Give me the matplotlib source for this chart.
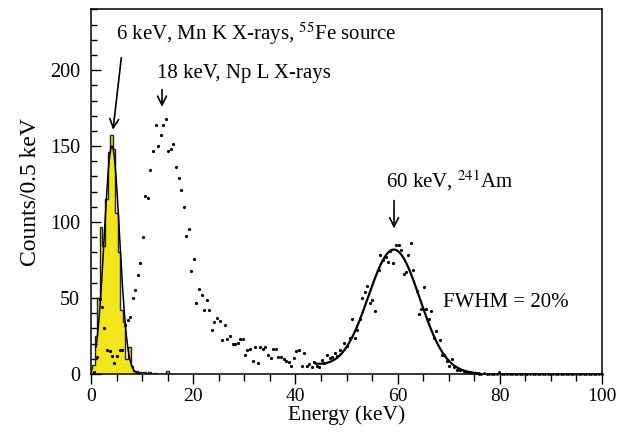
import numpy as np
import matplotlib
matplotlib.use("Agg")
from matplotlib import pyplot as plt

plt.rcParams['font.family'] = ['Liberation Serif', 'DejaVu Serif']
plt.rcParams['mathtext.fontset'] = 'stix'

# 55Fe histogram (Counts/0.5 keV), bin centres in keV
fe_centers = [0.0, 0.5, 1.0, 1.5, 2.0, 2.5, 3.0, 3.5, 4.0, 4.5, 5.0, 5.5, 6.0,
              6.5, 7.0, 7.5, 8.0, 8.5, 9.0, 9.5, 10.0, 10.5, 11.0, 11.5, 12.0,
              12.5, 13.0, 13.5, 14.0, 14.5, 15.0]
fe_counts = [3, 6, 25, 50, 97, 84, 115, 146, 157, 148, 106, 80, 42,
             34, 10, 18, 5, 2, 2, 1, 1, 1, 0, 1, 0,
             0.5, 0, 0, 0, 0, 2]

# 241Am spectrum points
am_energy = [0.6, 1.1, 1.75, 2.15, 2.6, 3.2, 3.7, 4.2, 4.6, 5.15, 5.65, 6.15,
             6.65, 7.15, 7.65, 8.15, 8.65, 9.2, 9.6, 10.1, 10.6, 11.15, 11.6,
             12.1, 12.65, 13.15, 13.65, 14.15, 14.6, 15.1, 15.65, 16.1, 16.6,
             17.15, 17.65, 18.15, 18.6, 19.1, 19.65, 20.15, 20.6, 21.1, 21.65,
             22.15, 22.65, 23.15, 23.6, 24.1, 24.6, 25.15, 25.7, 26.2, 26.7,
             27.2, 27.7, 28.2, 28.7, 29.2, 29.7, 30.15, 30.6, 31.1, 31.65,
             32.15, 32.6, 33.1, 33.65, 34.1, 34.65, 35.15, 35.7, 36.2, 36.65,
             37.2, 37.7, 38.2, 38.75, 39.15, 39.65, 40.2, 40.7, 41.2, 41.65,
             42.2, 42.7, 43.2, 43.65, 44.15, 44.7, 45.2, 45.65, 46.1, 46.7,
             47.2, 47.7, 48.2, 48.65, 49.6, 50.15, 50.65, 51.15, 51.65, 52.1,
             52.6, 53.1, 53.6, 54.1, 54.6, 55.05, 55.5, 56.3, 56.6, 57.2,
             57.7, 58.2, 58.6, 59.1, 59.7, 60.2, 60.7, 61.2, 61.7, 62.1,
             62.6, 63.1, 63.7, 64.2, 64.6, 65.1, 65.6, 66.1, 66.6, 67.1,
             67.6, 68.2, 68.6, 69.1, 69.7, 70.1, 70.6, 71.0, 71.7, 72.3, 72.9]
am_counts = [1.5, 11, 49.5, 44, 30, 16, 15, 12, 7, 12, 16, 16,
             32, 35.5, 37.5, 50, 55, 65, 73, 90, 117, 116, 134,
             147, 164, 150, 157, 164, 168, 146.5, 148, 151.5, 136,
             129, 121, 110, 91, 95.5, 68, 76, 47, 56, 52,
             42, 49, 42, 29, 34, 37, 35, 22.6, 32, 23.3,
             25, 19.6, 20, 20.5, 23.3, 23.3, 12.3, 15.8, 16.5, 8.4,
             17.6, 7, 17.6, 16.3, 17.6, 12.3, 10.3, 16.5, 16.5, 11,
             11, 9.7, 8.6, 7.7, 5.3, 10.6, 15, 15.6, 5.5, 14,
             5.5, 6.4, 4.8, 8.1, 5.5, 4.4, 9.2, 7, 12.5, 10.5,
             11, 14, 12, 15.5, 20.7, 18.7, 24, 36.5, 23.7, 28.8,
             36.3, 49.8, 53.8, 57.8, 47, 49, 41.2, 68.6, 78.1, 75.2,
             77, 73.7, 81.2, 73, 85.2, 85.2, 81.9, 66, 67, 78,
             86.3, 68.2, 54.8, 39.2, 42.9, 57, 42.6, 36, 41.2, 23.8,
             28.2, 22.3, 12.4, 12.8, 8.4, 5, 10, 4.6, 2.9, 2.9, 1.8]

# flat tail above 73 keV (0.5 keV channels)
tail_energy = np.arange(73.4, 100.0, 0.5)
tail_counts = [1, 1, 0.5, 0.5, 0.5, 0, 0, 0.5, 0, 0, 0, 0, 0, 1.5, 0, 0,
               0, 0, 0, 0, 0, 0, 0, 0, 0, 0, 0, 0, 0, 0, 0, 0, 0, 0, 0, 0,
               0, 0, 0, 0, 0, 0, 0, 0, 0, 0, 0, 0, 0, 0, 0, 0, 0, 0]

# gaussian fits: amplitude, centre (keV), sigma (keV)
fe_fit = [150, 4.1, 1.5]
am_fit = [81, 59.3, 5.05]
am_bkg = [6, 44, 8]   # exponential low-energy tail: amplitude, start, slope

fig = plt.figure(figsize=(6.3, 4.33), dpi=100)
ax = fig.add_axes([0.1444, 0.1363, 0.8112, 0.842])

# histogram
edges = np.concatenate([np.array(fe_centers) - 0.25, [fe_centers[-1] + 0.25]])
edges[0] = 0
ax.stairs(fe_counts, edges, fill=True, color='#f2e51c', zorder=1)
ax.stairs(fe_counts, edges, color='#222222', lw=1.0, zorder=2)

xf = np.linspace(1.0, 9.5, 200)
ax.plot(xf, fe_fit[0] * np.exp(-(xf - fe_fit[1]) ** 2 / (2 * fe_fit[2] ** 2)),
        color='black', lw=1.1, zorder=3)

xa = np.linspace(44, 76, 300)
ya = am_fit[0] * np.exp(-(xa - am_fit[1]) ** 2 / (2 * am_fit[2] ** 2)) \
    + am_bkg[0] * np.exp(-(xa - am_bkg[1]) / am_bkg[2])
ax.plot(xa, ya, color='black', lw=1.6, zorder=3)

ax.plot(am_energy, am_counts, 'o', color='black', ms=2.3, mew=0, zorder=4, clip_on=False)
ax.plot(tail_energy, tail_counts, 'o', color='black', ms=2.0, mew=0, zorder=4, clip_on=False)

ax.set_xlim(0, 100)
ax.set_ylim(0, 240)
ax.set_xticks([0, 20, 40, 60, 80, 100])
ax.set_xticks(np.arange(0, 101, 5), minor=True)
ax.set_yticks([0, 50, 100, 150, 200])
ax.set_yticks(np.arange(0, 241, 10), minor=True)
ax.tick_params(axis='x', which='major', direction='out', length=7, width=1, labelsize=14, pad=3)
ax.tick_params(axis='x', which='minor', direction='out', length=5, width=1)
ax.tick_params(axis='y', which='major', direction='in', length=7, width=1, labelsize=14.5, pad=8)
ax.tick_params(axis='y', which='minor', direction='in', length=4.5, width=1)
for s in ax.spines.values():
    s.set_linewidth(1.1)

ax.set_xlabel('Energy (keV)', fontsize=15.5, labelpad=0)
ax.set_ylabel('Counts/0.5 keV', fontsize=17, labelpad=6)

arrow = dict(arrowstyle='->', color='black', lw=1.2, mutation_scale=16)
ax.text(4.8, 224, r'6 keV, Mn K X-rays, $^{55}$Fe source', fontsize=15, va='center', ha='left')
ax.annotate('', xy=(4.25, 159), xytext=(6.0, 210), arrowprops=arrow)
ax.text(13.0, 198, '18 keV, Np L X-rays', fontsize=15, va='center', ha='left')
ax.annotate('', xy=(13.9, 174), xytext=(13.9, 189), arrowprops=arrow)
ax.text(57.7, 127, r'60 keV, $^{241}$Am', fontsize=15, va='center', ha='left')
ax.annotate('', xy=(59.3, 94), xytext=(59.3, 116), arrowprops=arrow)
ax.text(68.8, 47, 'FWHM = 20%', fontsize=15, va='center', ha='left')

fig.savefig('out.png', dpi=100)
